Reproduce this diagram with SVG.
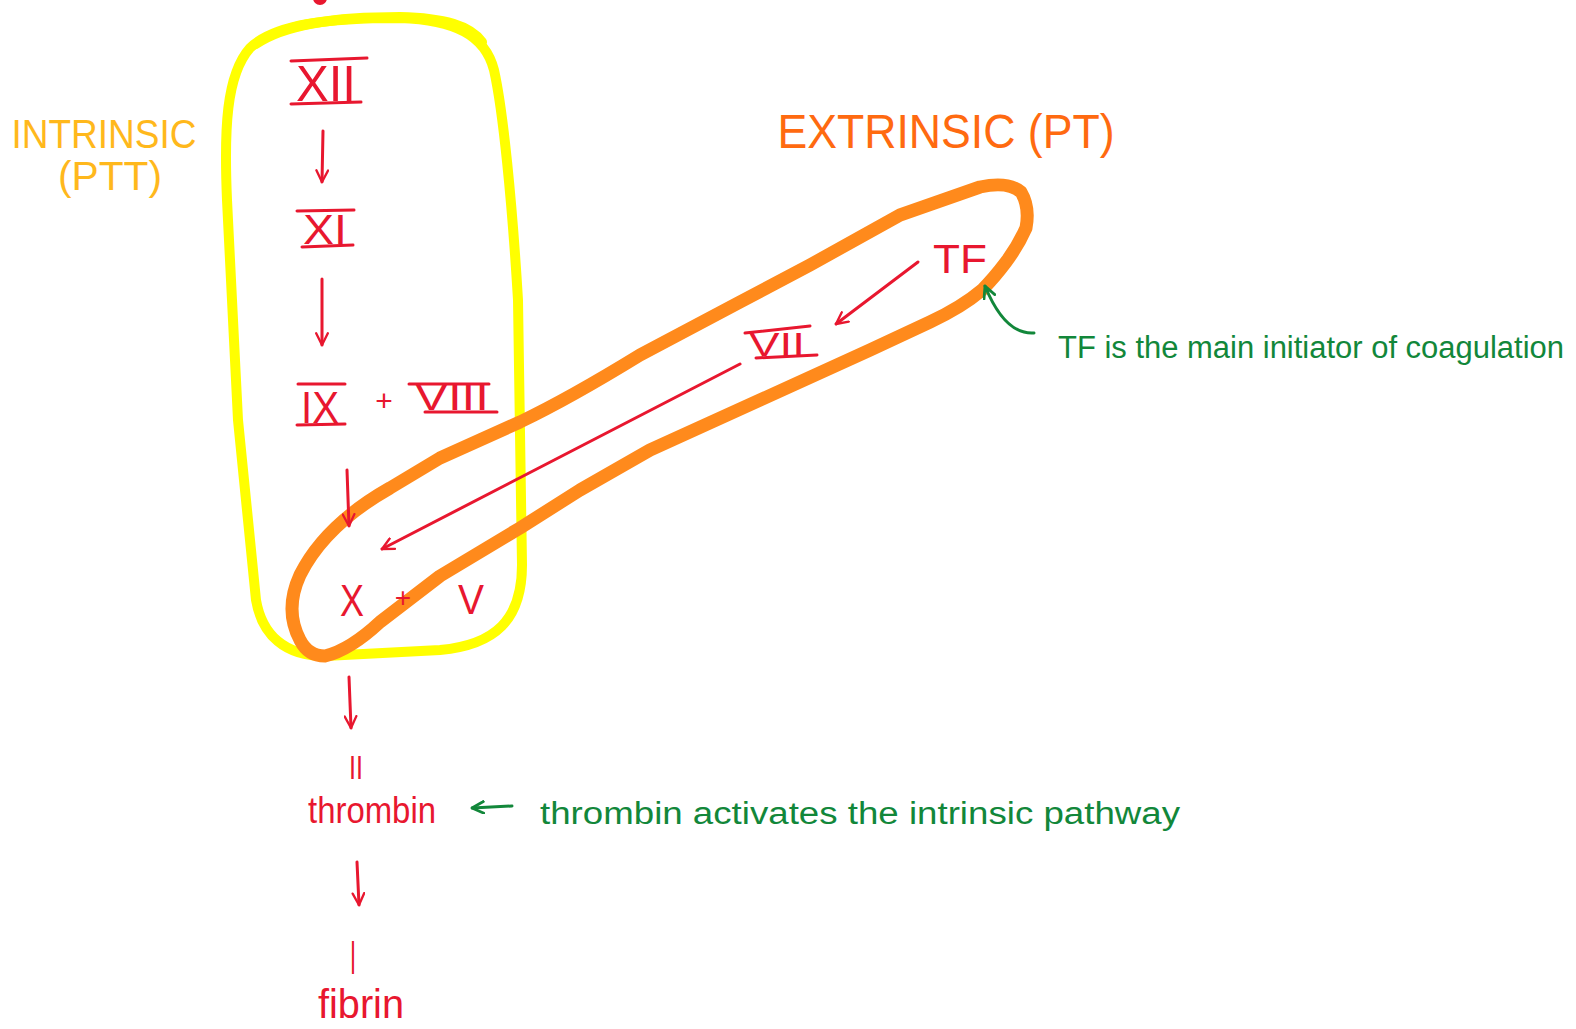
<svg xmlns="http://www.w3.org/2000/svg" width="1576" height="1029" viewBox="0 0 1576 1029">
<style>
.red{fill:#e8172f;font-family:"Liberation Sans",sans-serif;}
.bar{stroke:#e8172f;stroke-width:3;stroke-linecap:round;fill:none;}
.con{stroke:#e8172f;stroke-width:3;stroke-linecap:round;fill:none;}
.gcon{stroke:#12873a;stroke-width:3;stroke-linecap:round;fill:none;}
.green{fill:#12873a;font-family:"Liberation Sans",sans-serif;font-size:31px;}
</style>
<defs>
<marker id="ah" viewBox="0 0 12 12" refX="11" refY="6" markerWidth="14" markerHeight="14" markerUnits="userSpaceOnUse" orient="auto">
<path d="M1,1 L11,6 L1,11" fill="none" stroke="#e8172f" stroke-width="2" stroke-linecap="round" stroke-linejoin="round"/>
</marker>
<marker id="ahg" viewBox="0 0 12 12" refX="11" refY="6" markerWidth="14" markerHeight="14" markerUnits="userSpaceOnUse" orient="auto">
<path d="M1,1 L11,6 L1,11" fill="none" stroke="#12873a" stroke-width="2.4" stroke-linecap="round" stroke-linejoin="round"/>
</marker>
</defs>
<rect width="1576" height="1029" fill="#ffffff"/>
<circle cx="320" cy="-2" r="7" fill="#e8172f"/>
<g id="intrinsic-box">
<path d="M250,48 C275,24 330,18 400,18 C455,20 485,35 494,70 C503,110 512,200 518,300 L522,565 C522,620 495,645 440,650 L325,656 C285,656 262,635 256,600 L238,420 L227,200 C224,130 226,75 250,48 Z" fill="none" stroke="#ffff00" stroke-width="10" stroke-linejoin="round"/>
<path d="M256,44 C285,24 335,17 400,17 C445,18 470,26 482,42" fill="none" stroke="#ffff00" stroke-width="10" stroke-linecap="round"/>
</g>
<g id="extrinsic-box">
<path d="M300,640 Q284,610 300,575 Q325,525 390,488 L440,458 L520,422 Q570,398 640,355 L740,302 L810,265 L900,215 L980,187 Q1008,181 1021,192 Q1030,207 1026,228 Q1018,246 1006,262 Q994,278 982,290 Q962,307 930,322 L870,350 L760,400 L650,450 L580,490 L520,528 L440,576 L380,622 Q350,650 325,656 Q308,656 300,640 Z" fill="none" stroke="#ff8a1c" stroke-width="13" stroke-linejoin="round"/>
</g>
<g id="label-intrinsic">
<text x="104" y="148" text-anchor="middle" font-family="Liberation Sans,sans-serif" font-size="40" fill="#ffb81c" textLength="185" lengthAdjust="spacingAndGlyphs">INTRINSIC</text>
<text x="110" y="190" text-anchor="middle" font-family="Liberation Sans,sans-serif" font-size="40" fill="#ffb81c" textLength="104" lengthAdjust="spacingAndGlyphs">(PTT)</text>
</g>
<g id="label-extrinsic">
<text x="946" y="148" text-anchor="middle" font-family="Liberation Sans,sans-serif" font-size="48" fill="#ff6a10" textLength="337" lengthAdjust="spacingAndGlyphs">EXTRINSIC  (PT)</text>
</g>
<g id="node-XII">
<text class="red" x="326" y="101" text-anchor="middle" font-size="50" textLength="60" lengthAdjust="spacingAndGlyphs">XII</text>
<path class="bar" d="M291,61 L367,58 M291,104 L361,102"/>
</g>
<g id="node-XI">
<text class="red" x="325" y="244" text-anchor="middle" font-size="42" textLength="44" lengthAdjust="spacingAndGlyphs">XI</text>
<path class="bar" d="M297,211 L354,210 M302,247 L353,245"/>
</g>
<g id="node-IX-VIII">
<text class="red" x="320" y="423" text-anchor="middle" font-size="44" textLength="38" lengthAdjust="spacingAndGlyphs">IX</text>
<path class="bar" d="M298,384 L345,384 M297,425 L345,424"/>
<text class="red" x="384" y="411" text-anchor="middle" font-size="30">+</text>
<text class="red" x="452" y="410" text-anchor="middle" font-size="36" textLength="74" lengthAdjust="spacingAndGlyphs">VIII</text>
<path class="bar" d="M409,384 L489,384 M425,412 L497,412"/>
</g>
<g id="node-X-V">
<text class="red" x="352" y="616" text-anchor="middle" font-size="44" textLength="24" lengthAdjust="spacingAndGlyphs">X</text>
<text class="red" x="403" y="607" text-anchor="middle" font-size="28">+</text>
<text class="red" x="471" y="614" text-anchor="middle" font-size="42" textLength="26" lengthAdjust="spacingAndGlyphs">V</text>
</g>
<g id="node-II">
<text class="red" x="356" y="779" text-anchor="middle" font-size="34" textLength="14" lengthAdjust="spacingAndGlyphs">II</text>
</g>
<g id="node-thrombin">
<text class="red" x="372" y="823" text-anchor="middle" font-size="36" textLength="128" lengthAdjust="spacingAndGlyphs">thrombin</text>
</g>
<g id="node-I">
<text class="red" x="353" y="974" text-anchor="middle" font-size="48" textLength="6" lengthAdjust="spacingAndGlyphs">I</text>
</g>
<g id="node-fibrin">
<text class="red" x="361" y="1018" text-anchor="middle" font-size="40" textLength="86" lengthAdjust="spacingAndGlyphs">fibrin</text>
</g>
<g id="node-TF">
<text class="red" x="960" y="273" text-anchor="middle" font-size="40" textLength="54" lengthAdjust="spacingAndGlyphs">TF</text>
</g>
<g id="node-VII">
<text class="red" x="777" y="356" text-anchor="middle" font-size="34" textLength="56" lengthAdjust="spacingAndGlyphs">VII</text>
<path class="bar" d="M745,333 L810,326 M756,358 L817,355"/>
</g>
<g id="note-TF">
<text class="green" x="1058" y="358" textLength="506" lengthAdjust="spacingAndGlyphs">TF is the main initiator of coagulation</text>
</g>
<g id="note-thrombin">
<text class="green" x="540" y="824" textLength="640" lengthAdjust="spacingAndGlyphs">thrombin activates the intrinsic pathway</text>
</g>
<g id="connectors">
<path class="con" d="M323,131 L322,182" marker-end="url(#ah)"/>
<path class="con" d="M322,279 L322,345" marker-end="url(#ah)"/>
<path class="con" d="M347,470 L349,526" marker-end="url(#ah)"/>
<path class="con" d="M740,364 L382,549" marker-end="url(#ah)"/>
<path class="con" d="M918,262 L836,324" marker-end="url(#ah)"/>
<path class="con" d="M349,677 L351,728" marker-end="url(#ah)"/>
<path class="con" d="M357,862 L359,905" marker-end="url(#ah)"/>
<path class="gcon" d="M1034,333 Q1005,335 985,286" marker-end="url(#ahg)"/>
<path class="gcon" d="M512,806 L472,808" marker-end="url(#ahg)"/>
</g>
</svg>
